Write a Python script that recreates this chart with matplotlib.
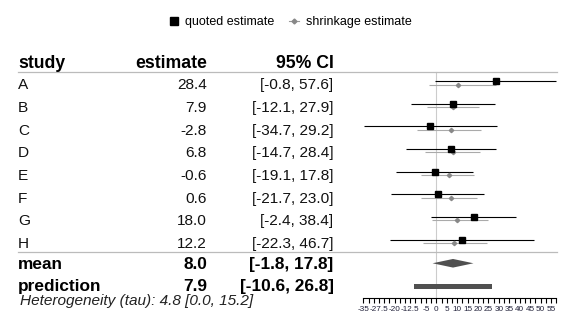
import matplotlib
matplotlib.use("Agg")
import matplotlib.pyplot as plt
from matplotlib.lines import Line2D
from matplotlib.patches import Polygon, Rectangle
from matplotlib.transforms import blended_transform_factory

plt.rcParams['font.family'] = ['Liberation Sans', 'DejaVu Sans']

# data
studies = ['A', 'B', 'C', 'D', 'E', 'F', 'G', 'H']
est = [28.4, 7.9, -2.8, 6.8, -0.6, 0.6, 18.0, 12.2]
lo = [-0.8, -12.1, -34.7, -14.7, -19.1, -21.7, -2.4, -22.3]
hi = [57.6, 27.9, 29.2, 28.4, 17.8, 23.0, 38.4, 46.7]

shr_est = [10.4, 8.0, 7.2, 8.0, 6.2, 6.9, 9.9, 8.3]
shr_lo = [-3.3, -4.4, -9.2, -5.3, -7.3, -7.5, -2.2, -6.5]
shr_hi = [28.4, 20.6, 21.4, 20.8, 17.9, 19.5, 24.6, 24.4]

mean_est, mean_lo, mean_hi = 8.0, -1.8, 17.8
pred_est, pred_lo, pred_hi = 7.9, -10.6, 26.8
tau_txt = 'Heterogeneity (tau): 4.8 [0.0, 15.2]'

tick_pos = [-35 + 2.5 * i for i in range(38)]
label_pos = [-35, -27.5, -20, -12.5, -5, 0, 5, 10, 15, 20, 25, 30, 35, 40, 45, 50, 55]

fig = plt.figure(figsize=(5.76, 3.36), dpi=100)
ax = fig.add_axes([0, 0, 1, 1])
ax.set_xlim(-209.2, 66.97)
ax.set_ylim(11.25, -3.58)
ax.patch.set_visible(False)
for s in ['top', 'left', 'right']:
    ax.spines[s].set_visible(False)

n = len(studies)
rows = list(range(n))
mean_row = 8.04
pred_row = 9.065

# zero line and separators
ax.plot([0, 0], [-0.42, 9.58], color='#cccccc', lw=0.8, zorder=0)
ax.axhline(-0.42, xmin=18 / 576, xmax=557 / 576, color='#bbbbbb', lw=0.9)
ax.axhline(7.53, xmin=18 / 576, xmax=557 / 576, color='#bbbbbb', lw=0.9)

# quoted estimates
ax.hlines(rows, lo, hi, color='black', lw=0.8, zorder=2)
ax.plot(est, rows, 's', color='black', ms=4.2, zorder=3)

# shrinkage estimates
sr = [r + 0.15 for r in rows]
ax.hlines(sr, shr_lo, shr_hi, color='#aaaaaa', lw=0.8, zorder=1)
ax.plot(shr_est, sr, 'D', color='#888888', ms=2.2, zorder=2)

# summary
dh = 0.19
ax.add_patch(Polygon([[mean_lo, mean_row], [mean_est, mean_row - dh],
                      [mean_hi, mean_row], [mean_est, mean_row + dh]],
                     closed=True, color='#505050', lw=0))
ax.add_patch(Rectangle((pred_lo, pred_row - 0.11), pred_hi - pred_lo, 0.22,
                       color='#505050', lw=0))

# x axis
ax.spines['bottom'].set_position(('data', 9.58))
ax.spines['bottom'].set_bounds(-35, 57.5)
ax.spines['bottom'].set_linewidth(0.8)
ax.set_xticks(tick_pos)
ax.set_xticklabels([('%g' % t if t in label_pos else '') for t in tick_pos])
ax.tick_params(axis='x', direction='out', length=3.6, width=0.8, pad=2.2,
               labelsize=5.9, colors='black', labelcolor='#22223a')
ax.set_yticks([])

# table
tr = blended_transform_factory(ax.transAxes, ax.transData)
x_study, x_est, x_ci = 18 / 576, 207 / 576, 333.5 / 576
hy = -0.59
ax.text(x_study, hy, 'study', transform=tr, fontsize=12.7, fontweight='bold', va='baseline')
ax.text(x_est, hy, 'estimate', transform=tr, fontsize=12.7, fontweight='bold', va='baseline', ha='right')
ax.text(x_ci, hy, '95% CI', transform=tr, fontsize=12.7, fontweight='bold', va='baseline', ha='right')
for i in rows:
    y = i + 0.36
    ax.text(x_study, y, studies[i], transform=tr, fontsize=11.1, va='baseline', color='#111111')
    ax.text(x_est, y, '%.1f' % est[i], transform=tr, fontsize=11.1, va='baseline', ha='right', color='#111111')
    ax.text(x_ci, y, '[%.1f, %.1f]' % (lo[i], hi[i]), transform=tr, fontsize=11.1,
            va='baseline', ha='right', color='#111111')

for y, name, e, l, h in [(8.29, 'mean', mean_est, mean_lo, mean_hi),
                         (9.26, 'prediction', pred_est, pred_lo, pred_hi)]:
    ax.text(x_study, y, name, transform=tr, fontsize=12.4, fontweight='bold', va='baseline')
    ax.text(x_est, y, '%.1f' % e, transform=tr, fontsize=12.4, fontweight='bold', va='baseline', ha='right')
    ax.text(x_ci, y, '[%.1f, %.1f]' % (l, h), transform=tr, fontsize=12.4, fontweight='bold',
            va='baseline', ha='right')

ax.text(20 / 576, 9.9, tau_txt, transform=tr, fontsize=11.1, style='italic',
        va='baseline', color='#222222')

# legend
handles = [Line2D([], [], ls='none', marker='s', color='black', ms=5.5),
           Line2D([], [], color='#999999', lw=0.8, marker='D', ms=2.5, mec='#888888', mfc='#888888')]
fig.legend(handles, ['quoted estimate', 'shrinkage estimate'], loc='center',
           bbox_to_anchor=(290 / 576, 1 - 22.5 / 336), ncol=2, frameon=False,
           fontsize=9, handlelength=0.8, handletextpad=0.5, columnspacing=1.2)

fig.savefig('out.png', dpi=100)
